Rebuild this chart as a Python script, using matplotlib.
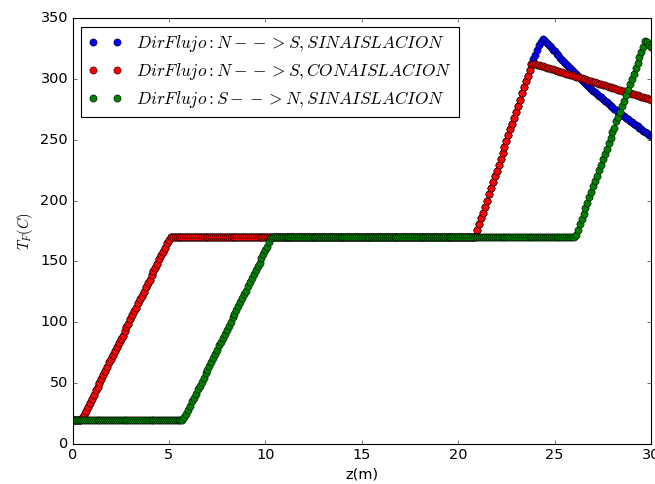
import matplotlib
matplotlib.use('Agg')
import matplotlib.pyplot as plt
import numpy as np

plt.style.use('classic')
plt.rcParams['font.size'] = 13

# z grid of the profile (m), one point every 0.1 m
z = np.round(np.arange(0, 301) * 0.1, 1)

# N-->S with insulation (red)
t_ns_con = ([20] * 5 +
            [21, 24, 27, 30, 34, 37, 40, 44, 47, 50, 53, 57, 60, 63, 67, 70,
             73, 76, 80, 83, 86, 89, 93, 96, 99, 103, 106, 109, 112, 116, 119,
             122, 125, 129, 132, 135, 139, 142, 145, 148, 152, 155, 158, 161,
             165, 168] +
            [170] * 158 +
            [171, 176, 181, 186, 190, 195, 200, 205, 210, 215, 220, 224, 229,
             234, 239, 244, 249, 254, 259, 263, 268, 273, 278, 283, 288, 293,
             298, 302, 307, 312] +
            [312.6, 312.1, 311.6, 311.2, 310.7, 310.2, 309.7, 309.2, 308.7, 308.2,
             307.8, 307.3, 306.8, 306.3, 305.8, 305.3, 304.8, 304.4, 303.9, 303.4,
             302.9, 302.4, 301.9, 301.4, 301.0, 300.5, 300.0, 299.5, 299.0, 298.5,
             298.0, 297.6, 297.1, 296.6, 296.1, 295.6, 295.1, 294.6, 294.2, 293.7,
             293.2, 292.7, 292.2, 291.7, 291.2, 290.8, 290.3, 289.8, 289.3, 288.8,
             288.3, 287.8, 287.4, 286.9, 286.4, 285.9, 285.4, 284.9, 284.4, 284.0,
             283.5, 283.0])

# N-->S without insulation (blue): same as red up to z=23.8, then this tail
t_ns_sin_tail = [316, 320, 324, 327.5, 330.5, 332.5,
                 330.8, 329.1, 327.5, 325.8, 324.1, 322.5, 320.8, 319.2, 317.5,
                 315.8, 314.1, 312.3, 310.6, 308.9, 307.2, 305.4, 303.7, 302.0,
                 300.5, 299.1, 297.6, 296.2, 294.7, 293.3, 291.8, 290.4, 288.9,
                 287.5, 286.0, 284.7, 283.4, 282.0, 280.7, 279.4, 278.1, 276.8,
                 275.4, 274.1, 272.8, 271.5, 270.3, 269.1, 268.0, 266.8, 265.6,
                 264.4, 263.2, 262.0, 260.9, 259.8, 258.6, 257.5, 256.4, 255.3,
                 254.1, 253.0]
t_ns_sin = t_ns_con[:239] + t_ns_sin_tail

# S-->N without insulation (green)
t_sn_sin = ([20] * 58 +
            [22, 25, 28, 31, 35, 38, 41, 45, 48, 51, 54, 58, 61, 64, 67, 71,
             74, 77, 81, 84, 87, 90, 94, 97, 100, 104, 107, 110, 113, 117, 120,
             123, 126, 130, 133, 136, 140, 143, 146, 149, 153, 156, 159, 162,
             166, 169] +
            [170] * 157 +
            [172, 176, 181, 185, 189, 194, 198, 203, 207, 212, 216, 220, 225,
             229, 234, 238, 242, 247, 251, 256, 260, 265, 269, 273, 278, 282,
             287, 291, 296, 300, 304, 309, 313, 318, 322, 326, 331, 330, 328,
             326])

labels = [r'$Dir Flujo: N-->S, SIN AISLACION$',
          r'$Dir Flujo: N-->S, CON AISLACION$',
          r'$Dir Flujo: S-->N, SIN AISLACION$']

fig = plt.figure(figsize=(655 / 80., 484 / 80.), dpi=80)
ax = fig.add_axes([72.5 / 655., 40 / 484., 578.5 / 655., 426 / 484.])

ax.plot(z, t_ns_sin, 'bo', ms=6.5, label=labels[0])
ax.plot(z, t_ns_con, 'ro', ms=6.5, label=labels[1])
ax.plot(z, t_sn_sin, 'go', ms=6.5, label=labels[2])

ax.set_xlim(0, 30)
ax.set_ylim(0, 350)
ax.set_xlabel('z(m)')
ax.set_ylabel(r'$T_F(C)$')
ax.legend(loc='upper left', prop={'size': 15.5}, labelspacing=0.4)

fig.savefig('out.png', dpi=80)
